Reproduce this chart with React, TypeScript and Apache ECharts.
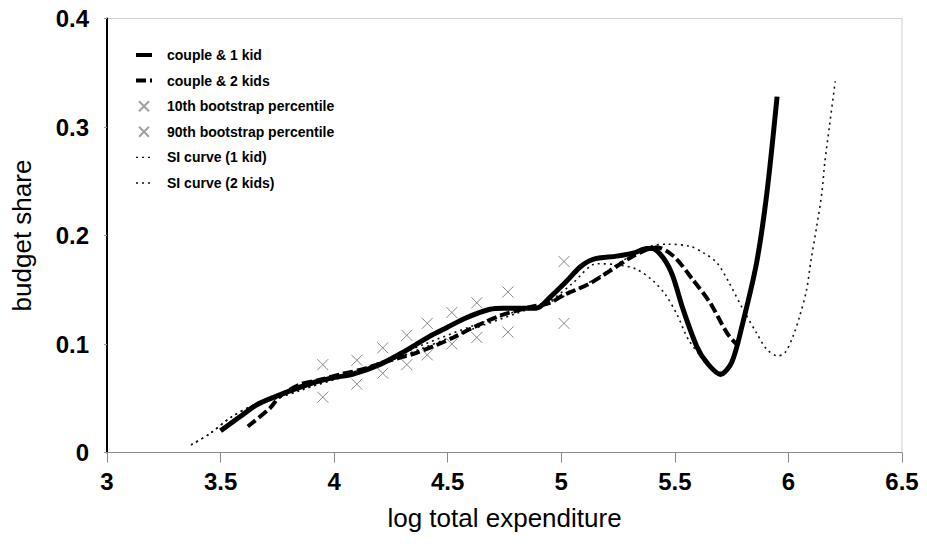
import React, { useEffect, useRef } from "react";
import * as echarts from "echarts";

// log total expenditure / budget share pairs
const coupleOneKid: [number, number][] = [
  [3.5, 0.02], [3.585, 0.033], [3.66, 0.044], [3.747, 0.052], [3.82, 0.058],
  [3.91, 0.0645], [3.997, 0.069], [4.08, 0.072], [4.2, 0.081], [4.3, 0.092],
  [4.42, 0.107], [4.495, 0.115], [4.58, 0.124], [4.686, 0.132], [4.745, 0.133],
  [4.89, 0.133], [4.95, 0.143], [5.024, 0.158], [5.083, 0.171], [5.14, 0.178],
  [5.244, 0.181], [5.32, 0.184], [5.376, 0.188], [5.4, 0.188], [5.45, 0.179],
  [5.49, 0.163], [5.536, 0.132], [5.596, 0.098], [5.64, 0.083], [5.7, 0.072],
  [5.75, 0.083], [5.795, 0.116], [5.86, 0.175], [5.905, 0.239], [5.95, 0.328],
];

const coupleTwoKids: [number, number][] = [
  [3.62, 0.024], [3.718, 0.041], [3.762, 0.052], [3.85, 0.0627], [3.938, 0.067],
  [4.026, 0.072], [4.114, 0.076], [4.217, 0.083], [4.35, 0.091], [4.45, 0.099],
  [4.525, 0.106], [4.62, 0.116], [4.73, 0.126], [4.86, 0.134], [4.95, 0.138],
  [5.01, 0.145], [5.127, 0.156], [5.3, 0.179], [5.376, 0.187], [5.42, 0.189],
  [5.494, 0.181], [5.58, 0.159], [5.655, 0.138], [5.73, 0.11], [5.77, 0.1],
];

const pct10: [number, number][] = [
  [3.95, 0.051], [4.1, 0.063], [4.214, 0.073], [4.32, 0.081], [4.41, 0.09],
  [4.518, 0.1], [4.628, 0.106], [4.765, 0.111], [5.012, 0.119],
];

const pct90: [number, number][] = [
  [3.95, 0.081], [4.1, 0.085], [4.214, 0.0965], [4.32, 0.108], [4.41, 0.119],
  [4.518, 0.129], [4.628, 0.138], [4.765, 0.148], [5.012, 0.176],
];

const siOneKid: [number, number][] = [
  [3.37, 0.007], [3.45, 0.017], [3.55, 0.033], [3.65, 0.044], [3.75, 0.05],
  [3.85, 0.057], [4.0, 0.068], [4.2, 0.083], [4.4, 0.1], [4.6, 0.116],
  [4.8, 0.13], [4.95, 0.14], [5.05, 0.156], [5.156, 0.174], [5.245, 0.173],
  [5.33, 0.169], [5.405, 0.158], [5.457, 0.146], [5.51, 0.127], [5.56, 0.104],
  [5.626, 0.086], [5.685, 0.075], [5.72, 0.073],
];

const siTwoKids: [number, number][] = [
  [3.37, 0.007], [3.45, 0.017], [3.55, 0.033], [3.65, 0.044], [3.75, 0.051],
  [3.85, 0.058], [4.0, 0.067], [4.2, 0.081], [4.4, 0.097], [4.6, 0.113],
  [4.8, 0.128], [5.0, 0.143], [5.15, 0.16], [5.28, 0.178], [5.39, 0.19],
  [5.47, 0.192], [5.567, 0.19], [5.626, 0.184], [5.685, 0.175], [5.74, 0.156],
  [5.8, 0.132], [5.86, 0.11], [5.905, 0.095], [5.955, 0.089], [5.985, 0.092],
  [6.02, 0.107], [6.05, 0.126], [6.08, 0.15], [6.1, 0.178], [6.125, 0.209],
  [6.147, 0.239], [6.16, 0.267], [6.18, 0.3], [6.206, 0.342],
];

const seriesNames = [
  "couple & 1 kid",
  "couple & 2 kids",
  "10th bootstrap percentile",
  "90th bootstrap percentile",
  "SI curve (1 kid)",
  "SI curve (2 kids)",
];

const FONT = "'Liberation Sans', Arial, Helvetica, sans-serif";
const CROSS = "path://M0,0L10,10M10,0L0,10";

export default function App() {
  const ref = useRef<HTMLDivElement>(null);

  useEffect(() => {
    if (!ref.current) return;
    const chart = echarts.init(ref.current, undefined, { renderer: "svg" });
    const crossStyle = {
      color: "rgba(0,0,0,0)",
      borderColor: "#6a6a6a",
      borderWidth: 1,
    };
    // line entries show only their stroke, no marker
    const lineEntry = (name: string, width: number) => ({
      name,
      itemStyle: { opacity: 0 },
      lineStyle: { width },
    });
    chart.setOption({
      animation: false,
      backgroundColor: "#fff",
      grid: {
        left: 107,
        right: 25,
        top: 18.5,
        bottom: 91.5,
        outerBoundsMode: "none",
        containLabel: false,
        show: true,
        borderColor: "#d0d0d0",
        borderWidth: 1,
      },
      legend: {
        orient: "vertical",
        left: 134,
        top: 48,
        padding: 0,
        itemWidth: 16,
        itemHeight: 10,
        itemGap: 11.6,
        data: [
          lineEntry(seriesNames[0], 4),
          lineEntry(seriesNames[1], 4),
          { name: seriesNames[2], itemStyle: { borderColor: "#8a8a8a" } },
          { name: seriesNames[3], itemStyle: { borderColor: "#8a8a8a" } },
          lineEntry(seriesNames[4], 1.3),
          lineEntry(seriesNames[5], 1.3),
        ],
        textStyle: {
          fontFamily: FONT,
          fontWeight: "bold",
          fontSize: 14,
          color: "#000",
          padding: [0, 0, 0, 10],
        },
      },
      xAxis: {
        type: "value",
        min: 3,
        max: 6.5,
        interval: 0.5,
        name: "log total expenditure",
        nameLocation: "middle",
        nameGap: 52,
        nameTextStyle: { fontFamily: FONT, fontSize: 26, color: "#000" },
        splitLine: { show: false },
        axisLine: { lineStyle: { color: "#8a8a8a", width: 1 } },
        axisTick: { length: 10, lineStyle: { color: "#8a8a8a" } },
        axisLabel: {
          margin: 17,
          fontFamily: FONT,
          fontWeight: "bold",
          fontSize: 24,
          color: "#000",
        },
      },
      yAxis: {
        type: "value",
        min: 0,
        max: 0.4,
        interval: 0.1,
        name: "budget share",
        nameLocation: "middle",
        nameGap: 72,
        nameTextStyle: { fontFamily: FONT, fontSize: 26, color: "#000" },
        splitLine: { show: false },
        axisLine: { lineStyle: { color: "#000", width: 2 } },
        axisTick: { length: 3, lineStyle: { color: "#999" } },
        axisLabel: {
          margin: 18,
          fontFamily: FONT,
          fontWeight: "bold",
          fontSize: 24,
          color: "#000",
        },
      },
      series: [
        {
          name: seriesNames[0],
          type: "line",
          data: coupleOneKid,
          symbol: "none",
          smooth: 0.3,
          z: 4,
          lineStyle: { color: "#000", width: 5 },
          itemStyle: { color: "#000" },
        },
        {
          name: seriesNames[1],
          type: "line",
          data: coupleTwoKids,
          symbol: "none",
          smooth: 0.3,
          z: 4,
          lineStyle: { color: "#000", width: 4, type: [10, 4] },
          itemStyle: { color: "#000" },
        },
        {
          name: seriesNames[2],
          type: "scatter",
          data: pct10,
          symbol: CROSS,
          symbolSize: 11,
          z: 3,
          itemStyle: crossStyle,
        },
        {
          name: seriesNames[3],
          type: "scatter",
          data: pct90,
          symbol: CROSS,
          symbolSize: 11,
          z: 3,
          itemStyle: crossStyle,
        },
        {
          name: seriesNames[4],
          type: "line",
          data: siOneKid,
          symbol: "none",
          smooth: 0.3,
          z: 2,
          lineStyle: { color: "#111", width: 1.6, type: [2, 4] },
          itemStyle: { color: "#111" },
        },
        {
          name: seriesNames[5],
          type: "line",
          data: siTwoKids,
          symbol: "none",
          smooth: 0.3,
          z: 2,
          lineStyle: { color: "#111", width: 1.6, type: [2, 4] },
          itemStyle: { color: "#111" },
        },
      ],
    });
    return () => chart.dispose();
  }, []);

  return (
    <div
      ref={ref}
      style={{ position: "fixed", left: 0, top: 0, width: 927, height: 544 }}
    />
  );
}
